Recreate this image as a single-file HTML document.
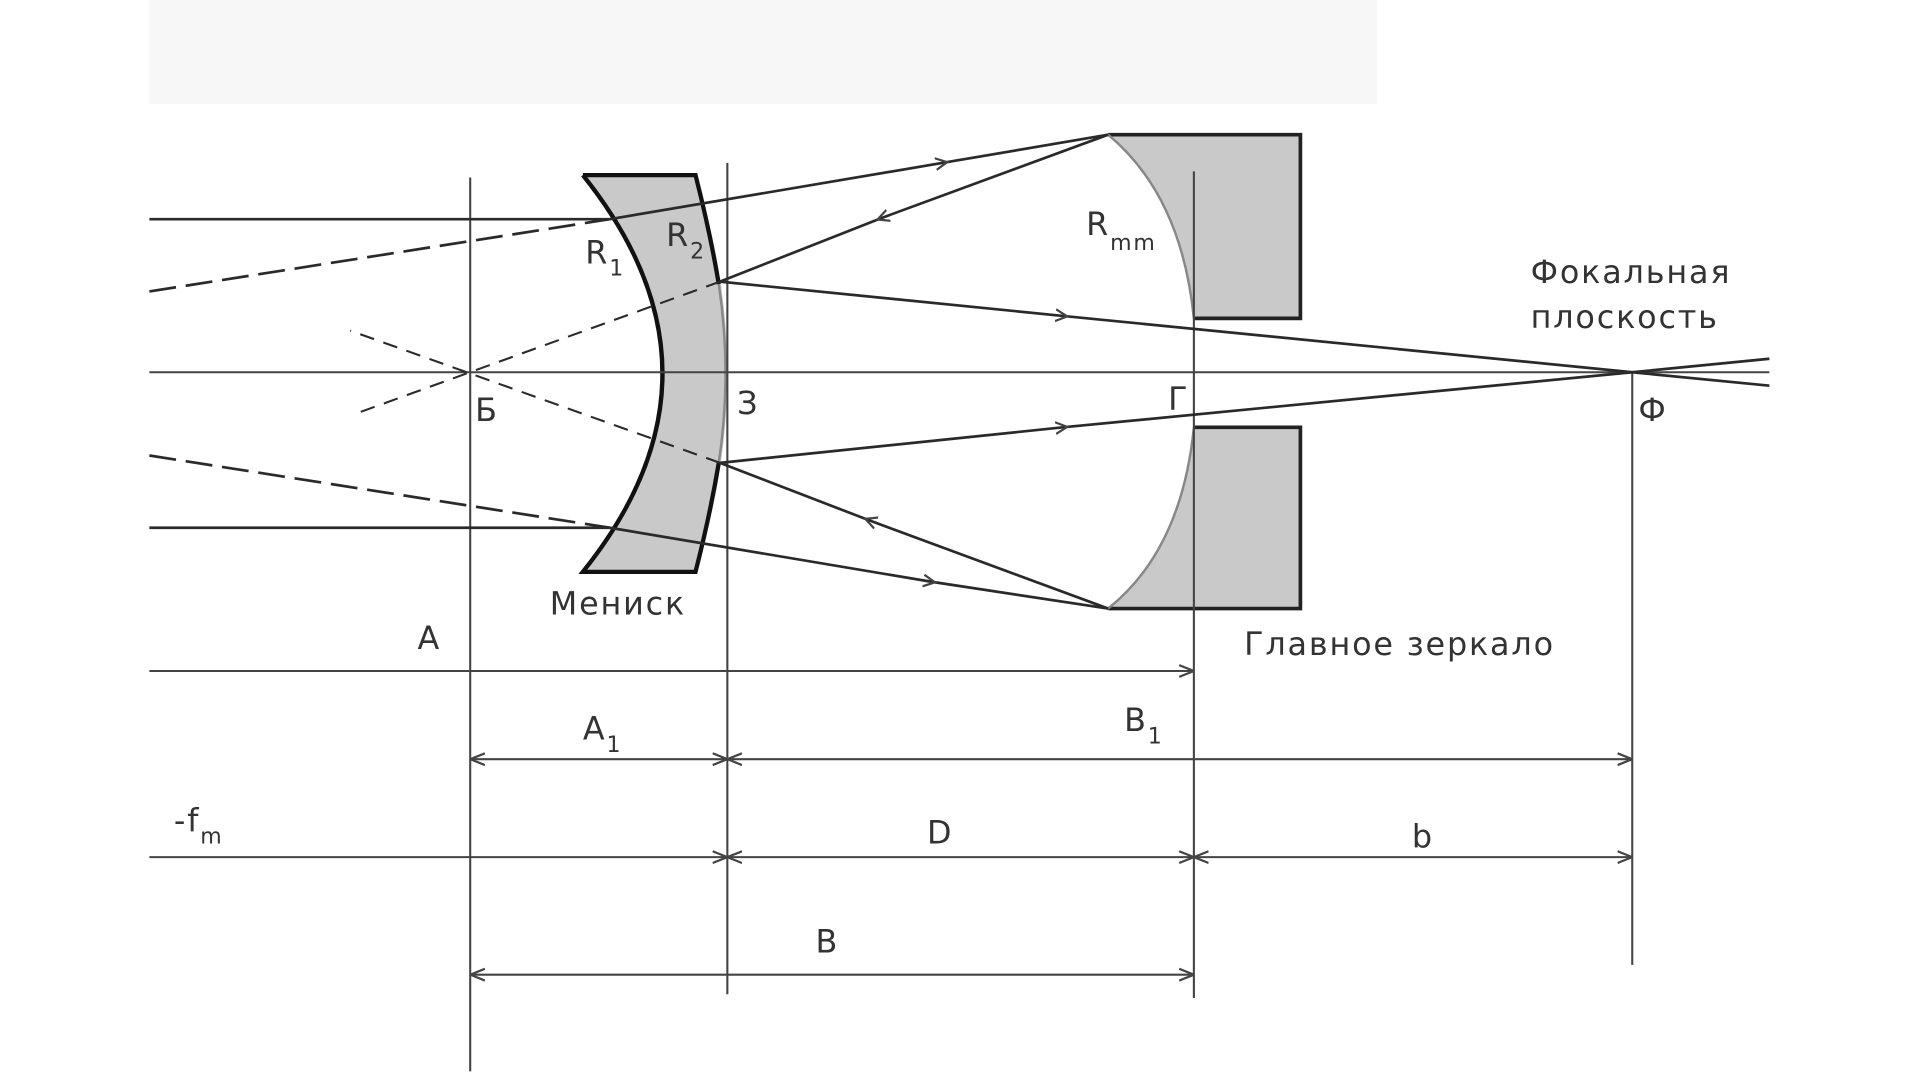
<!DOCTYPE html>
<html><head><meta charset="utf-8"><style>
html,body{margin:0;padding:0;background:#fff;}
svg{display:block;}
text{font-family:"DejaVu Sans","Liberation Sans",sans-serif;fill:#333;font-size:26px;letter-spacing:1.5px;}
</style></head><body>
<svg width="1920" height="1080" viewBox="0 0 1568 882" xmlns="http://www.w3.org/2000/svg">
<defs>
<marker id="ar" viewBox="0 0 10 10" refX="10" refY="5" markerWidth="12" markerHeight="12" markerUnits="userSpaceOnUse" orient="auto-start-reverse">
<path d="M0,1 L10,5 L0,9" fill="none" stroke="#444" stroke-width="1.5"/></marker>
<marker id="mid" viewBox="0 0 10 10" refX="5" refY="5" markerWidth="12" markerHeight="12" markerUnits="userSpaceOnUse" orient="auto">
<path d="M0,1 L8,5 L0,9" fill="none" stroke="#444" stroke-width="1.5"/></marker>
</defs>
<rect x="0" y="0" width="1568" height="882" fill="#fff"/>
<rect x="122" y="0" width="1003" height="85" fill="#f7f7f7"/>

<path d="M905,110 L1062,110 L1062,260 L975,260 Q965,160 905,110 Z" fill="#c9c9c9"/>
<path d="M905,110 L1062,110 L1062,260 L975,260" fill="none" stroke="#222" stroke-width="3"/>
<path d="M975,260 Q965,160 905,110" fill="none" stroke="#888" stroke-width="2"/>
<path d="M905,497 L1062,497 L1062,349 L975,349 Q965,449 905,497 Z" fill="#c9c9c9"/>
<path d="M905,497 L1062,497 L1062,349 L975,349" fill="none" stroke="#222" stroke-width="3"/>
<path d="M975,349 Q965,449 905,497" fill="none" stroke="#888" stroke-width="2"/>

<path d="M476,143 L568,143 Q620,305 568,467 L476,467 Q606,305 476,143 Z" fill="#c9c9c9"/>
<path d="M476,143 L568,143 Q580,190 587,232" fill="none" stroke="#111" stroke-width="3.5"/>
<path d="M587,378 Q580,420 568,467 L476,467 Q606,305 476,143" fill="none" stroke="#111" stroke-width="3.5"/>
<path d="M587,232 Q598,305 587,378" fill="none" stroke="#888" stroke-width="2"/>

<g stroke="#444" stroke-width="1.7" fill="none">
<line x1="122" y1="304" x2="1445" y2="304"/>
<line x1="384" y1="145" x2="384" y2="875"/>
<line x1="594" y1="133" x2="594" y2="812"/>
<line x1="975" y1="140" x2="975" y2="815"/>
<line x1="1333" y1="304" x2="1333" y2="788"/>
</g>
<g stroke="#2a2a2a" stroke-width="2.2" fill="none">
<line x1="122" y1="179" x2="498" y2="179"/>
<line x1="122" y1="238" x2="498" y2="179" stroke-dasharray="22,8"/>
<polyline points="498,179 770,133 905,110" marker-mid="url(#mid)"/>
<polyline points="905,110 720,178 588,230" marker-mid="url(#mid)"/>
<polyline points="588,230 868,258 1333,304" marker-mid="url(#mid)"/>
<line x1="1333" y1="304" x2="1445" y2="315"/>
<line x1="588" y1="230" x2="290" y2="338" stroke-dasharray="12,8" stroke-width="1.7"/>
<line x1="122" y1="431" x2="498" y2="431"/>
<line x1="122" y1="372" x2="498" y2="431" stroke-dasharray="22,8"/>
<polyline points="498,431 760,475 905,497" marker-mid="url(#mid)"/>
<polyline points="905,497 710,425 588,378" marker-mid="url(#mid)"/>
<polyline points="588,378 868,349 1333,304" marker-mid="url(#mid)"/>
<line x1="1333" y1="304" x2="1445" y2="293"/>
<line x1="588" y1="378" x2="286" y2="270" stroke-dasharray="12,8" stroke-width="1.7"/>
</g>
<g stroke="#444" stroke-width="1.7" fill="none">
<line x1="122" y1="548" x2="975" y2="548" marker-end="url(#ar)"/>
<line x1="384" y1="620" x2="594" y2="620" marker-start="url(#ar)" marker-end="url(#ar)"/>
<line x1="594" y1="620" x2="1333" y2="620" marker-start="url(#ar)" marker-end="url(#ar)"/>
<line x1="122" y1="700" x2="594" y2="700" marker-end="url(#ar)"/>
<line x1="594" y1="700" x2="975" y2="700" marker-start="url(#ar)" marker-end="url(#ar)"/>
<line x1="975" y1="700" x2="1333" y2="700" marker-start="url(#ar)" marker-end="url(#ar)"/>
<line x1="384" y1="796" x2="975" y2="796" marker-start="url(#ar)" marker-end="url(#ar)"/>
</g>

<text x="478" y="215">R<tspan font-size="18" dy="10">1</tspan></text>
<text x="544" y="201">R<tspan font-size="18" dy="10">2</tspan></text>
<text x="887" y="192">R<tspan font-size="18" dy="12">mm</tspan></text>
<text x="1250" y="231" letter-spacing="2">Фокальная</text>
<text x="1250" y="268" letter-spacing="2">плоскость</text>
<text x="388" y="344">Б</text>
<text x="602" y="338">З</text>
<text x="954" y="335">Г</text>
<text x="1338" y="344">Ф</text>
<text x="449" y="502" font-size="27" letter-spacing="2.5">Мениск</text>
<text x="1016" y="535" font-size="27" letter-spacing="2.5">Главное зеркало</text>
<text x="341" y="530">A</text>
<text x="476" y="604">A<tspan font-size="18" dy="10">1</tspan></text>
<text x="918" y="597">B<tspan font-size="18" dy="10">1</tspan></text>
<text x="142" y="679">-f<tspan font-size="18" dy="10">m</tspan></text>
<text x="757" y="689">D</text>
<text x="1153" y="692">b</text>
<text x="666" y="778">B</text>
</svg>
</body></html>
